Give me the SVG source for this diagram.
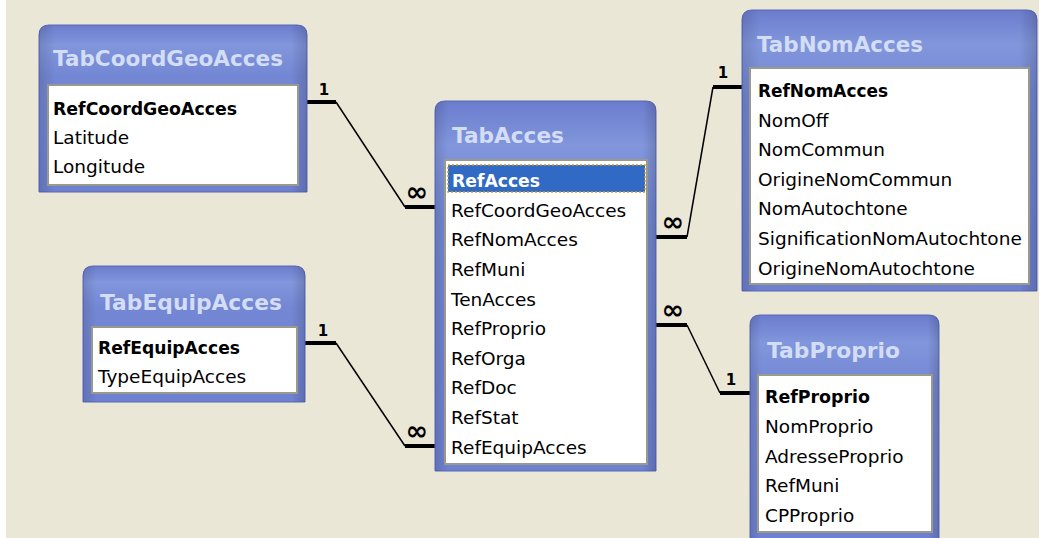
<svg xmlns="http://www.w3.org/2000/svg" width="1050" height="538" viewBox="0 0 1050 538">
<defs>
<linearGradient id="hdr" x1="0" y1="0" x2="0" y2="1">
<stop offset="0" stop-color="#6b7ccd"/>
<stop offset="0.12" stop-color="#8196dc"/>
<stop offset="0.3" stop-color="#7487d4"/>
<stop offset="1" stop-color="#6e80d0"/>
</linearGradient>
<linearGradient id="side" x1="0" y1="0" x2="1" y2="0">
<stop offset="0" stop-color="#000" stop-opacity="0.12"/>
<stop offset="0.06" stop-color="#000" stop-opacity="0"/>
<stop offset="0.94" stop-color="#000" stop-opacity="0"/>
<stop offset="1" stop-color="#000" stop-opacity="0.15"/>
</linearGradient>
</defs>
<style>
.frame{fill:url(#hdr);stroke:#5868b8;stroke-width:1}
.shade{fill:url(#side)}
.well{fill:#ffffff;stroke:#9a9a8c;stroke-width:2}
.title{font-family:"DejaVu Sans",sans-serif;font-weight:bold;font-size:21px;fill:#d3ddf4}
.f{font-family:"DejaVu Sans",sans-serif;font-size:18.5px;fill:#000}
.k{font-family:"DejaVu Sans",sans-serif;font-weight:bold;font-size:18.5px;fill:#000}
.thick{stroke:#000;stroke-width:4;fill:none}
.thin{stroke:#000;stroke-width:1.5;fill:none}
.one{font-family:"DejaVu Sans",sans-serif;font-weight:bold;font-size:15px;fill:#000;text-anchor:middle}
.many{font-family:"DejaVu Sans",sans-serif;font-weight:bold;font-size:27px;fill:#000;text-anchor:middle}
</style>
<rect x="0" y="0" width="1050" height="538" fill="#ffffff"/>
<rect x="6" y="0" width="1033" height="538" fill="#eae7d7"/>

<g id="connectors">
<path class="thick" d="M307 102H336"/><path class="thin" d="M336 102L405 207"/><path class="thick" d="M405 207H435"/>
<text class="one" x="324" y="95">1</text><text class="many" x="417" y="201">∞</text>

<path class="thick" d="M656 237H687"/><path class="thin" d="M687 237L713 87"/><path class="thick" d="M713 87H742"/>
<text class="one" x="723" y="78">1</text><text class="many" x="673" y="231">∞</text>

<path class="thick" d="M656 325H687"/><path class="thin" d="M687 325L720 393"/><path class="thick" d="M720 393H750"/>
<text class="one" x="731" y="385">1</text><text class="many" x="673" y="319">∞</text>

<path class="thick" d="M305 343H336"/><path class="thin" d="M336 343L405 446"/><path class="thick" d="M405 446H435"/>
<text class="one" x="323" y="336">1</text><text class="many" x="417" y="440">∞</text>
</g>

<g id="TabCoordGeoAcces">
<path class="frame" d="M39 192V35Q39 25 49 25H297Q307 25 307 35V192Z"/>
<path class="shade" d="M39 192V35Q39 25 49 25H297Q307 25 307 35V192Z"/>
<text class="title" x="53" y="66" textLength="230" lengthAdjust="spacingAndGlyphs">TabCoordGeoAcces</text>
<rect class="well" x="48" y="85" width="250" height="100"/>
<text class="k" x="53" y="115" textLength="184" lengthAdjust="spacingAndGlyphs">RefCoordGeoAcces</text>
<text class="f" x="53" y="144">Latitude</text>
<text class="f" x="53" y="173">Longitude</text>
</g>

<g id="TabAcces">
<path class="frame" d="M435 471V111Q435 101 445 101H646Q656 101 656 111V471Z"/>
<path class="shade" d="M435 471V111Q435 101 445 101H646Q656 101 656 111V471Z"/>
<text class="title" x="452" y="143" textLength="112" lengthAdjust="spacingAndGlyphs">TabAcces</text>
<rect class="well" x="445" y="160" width="202" height="304"/>
<rect x="448" y="165" width="197" height="27" fill="#316ac5" stroke="#c89a30" stroke-width="1.5" stroke-dasharray="2 2"/>
<text class="k" x="452" y="187" textLength="88" lengthAdjust="spacingAndGlyphs" style="fill:#fff">RefAcces</text>
<text class="f" x="451" y="217">RefCoordGeoAcces</text>
<text class="f" x="451" y="246">RefNomAcces</text>
<text class="f" x="451" y="276">RefMuni</text>
<text class="f" x="451" y="306">TenAcces</text>
<text class="f" x="451" y="335">RefProprio</text>
<text class="f" x="451" y="365">RefOrga</text>
<text class="f" x="451" y="394">RefDoc</text>
<text class="f" x="451" y="424">RefStat</text>
<text class="f" x="451" y="454">RefEquipAcces</text>
</g>

<g id="TabNomAcces">
<path class="frame" d="M742 291V20Q742 10 752 10H1027Q1037 10 1037 20V291Z"/>
<path class="shade" d="M742 291V20Q742 10 752 10H1027Q1037 10 1037 20V291Z"/>
<text class="title" x="757" y="52" textLength="166" lengthAdjust="spacingAndGlyphs">TabNomAcces</text>
<rect class="well" x="750" y="68" width="279" height="216"/>
<text class="k" x="758" y="97" textLength="130" lengthAdjust="spacingAndGlyphs">RefNomAcces</text>
<text class="f" x="758" y="127">NomOff</text>
<text class="f" x="758" y="156">NomCommun</text>
<text class="f" x="758" y="186">OrigineNomCommun</text>
<text class="f" x="758" y="215">NomAutochtone</text>
<text class="f" x="758" y="245">SignificationNomAutochtone</text>
<text class="f" x="758" y="275">OrigineNomAutochtone</text>
</g>

<g id="TabEquipAcces">
<path class="frame" d="M83 402V276Q83 266 93 266H295Q305 266 305 276V402Z"/>
<path class="shade" d="M83 402V276Q83 266 93 266H295Q305 266 305 276V402Z"/>
<text class="title" x="100" y="310" textLength="182" lengthAdjust="spacingAndGlyphs">TabEquipAcces</text>
<rect class="well" x="92" y="327" width="205" height="66"/>
<text class="k" x="98" y="354" textLength="142" lengthAdjust="spacingAndGlyphs">RefEquipAcces</text>
<text class="f" x="98" y="383">TypeEquipAcces</text>
</g>

<g id="TabProprio">
<path class="frame" d="M750 545V325Q750 315 760 315H929Q939 315 939 325V545Z"/>
<path class="shade" d="M750 545V325Q750 315 760 315H929Q939 315 939 325V545Z"/>
<text class="title" x="767" y="358" textLength="133" lengthAdjust="spacingAndGlyphs">TabProprio</text>
<rect class="well" x="758" y="375" width="174" height="157"/>
<text class="k" x="765" y="403" textLength="105" lengthAdjust="spacingAndGlyphs">RefProprio</text>
<text class="f" x="765" y="433">NomProprio</text>
<text class="f" x="765" y="463">AdresseProprio</text>
<text class="f" x="765" y="492">RefMuni</text>
<text class="f" x="765" y="522">CPProprio</text>
</g>
</svg>
